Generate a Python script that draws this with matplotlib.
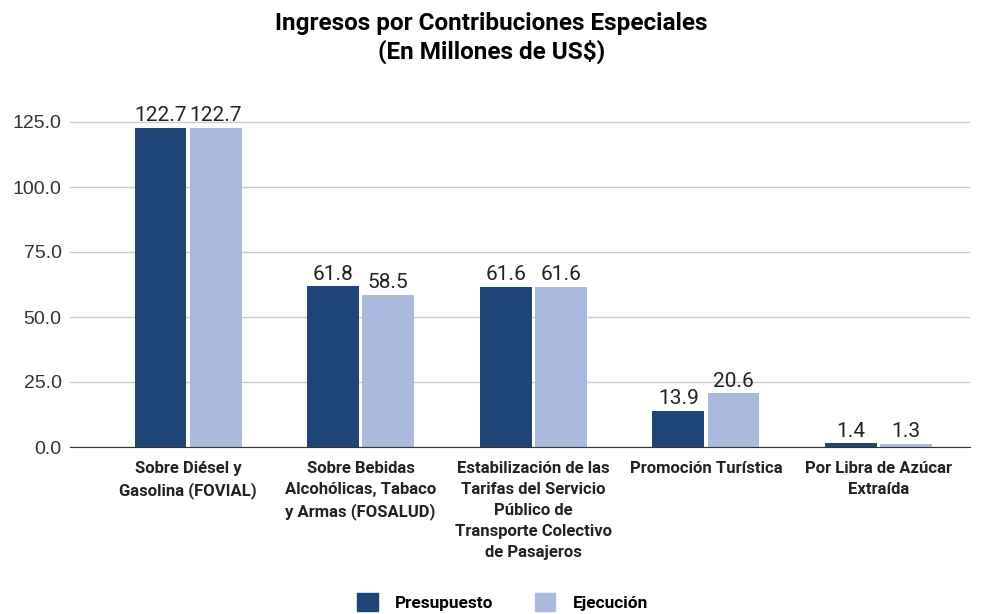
import numpy as np
import matplotlib.pyplot as plt
from matplotlib.patches import Patch

categories = ["Sobre Diésel y\nGasolina (FOVIAL)",
              "Sobre Bebidas\nAlcohólicas, Tabaco\ny Armas (FOSALUD)",
              "Estabilización de las\nTarifas del Servicio\nPúblico de\nTransporte Colectivo\nde Pasajeros",
              "Promoción Turística",
              "Por Libra de Azúcar\nExtraída"]
presupuesto = [122.7, 61.8, 61.6, 13.9, 1.4]
ejecucion = [122.7, 58.5, 61.6, 20.6, 1.3]
yticks = [0, 25, 50, 75, 100, 125]

dark = "#1f4577"
light = "#aab9de"

fig = plt.figure(figsize=(9.83, 6.14), dpi=100)
ax = fig.add_axes([70 / 983, 1 - 447 / 614, 900 / 983, (447 - 96) / 614])

x = np.arange(len(categories))
w = 0.30
b1 = ax.bar(x - 0.16, presupuesto, w, color=dark, zorder=3)
b2 = ax.bar(x + 0.16, ejecucion, w, color=light, zorder=3)

for bars, vals in ((b1, presupuesto), (b2, ejecucion)):
    for r, v in zip(bars, vals):
        ax.text(r.get_x() + r.get_width() / 2, v + 1.0, f"{v:.1f}",
                ha="center", va="bottom", fontsize=15, family="Roboto", color="#222222")

ax.set_xlim(-0.684, 4.53)
ax.set_ylim(0, 135)
ax.set_yticks(yticks)
ax.set_yticklabels([f"{t:.1f}" for t in yticks], family="Liberation Sans",
                   fontsize=14, color="#333333")
ax.grid(axis="y", color="#cccccc", linewidth=1, zorder=0)
ax.tick_params(axis="y", length=0, pad=6)
ax.tick_params(axis="x", length=0, pad=10)
ax.set_xticks(x)
ax.set_xticklabels(categories, fontsize=12, fontweight="bold", family="Roboto",
                   color="#222222", linespacing=1.5, va="top")
for s in ["top", "right", "left"]:
    ax.spines[s].set_visible(False)
ax.spines["bottom"].set_color("#333333")
ax.spines["bottom"].set_zorder(4)

fig.text(0.5, 1 - 38 / 614, "Ingresos por Contribuciones Especiales\n(En Millones de US$)",
         ha="center", va="center", fontsize=17.5, fontweight="bold", family="Roboto",
         linespacing=1.25)

handles = [Patch(color=dark, label="Presupuesto"), Patch(color=light, label="Ejecución")]
fig.legend(handles=handles, loc="center", bbox_to_anchor=(0.511, 1 - 602 / 614), ncol=2,
           frameon=False, prop={"family": "Roboto", "weight": "bold", "size": 12.4},
           handlelength=1.2, handleheight=1.2, columnspacing=2.4, handletextpad=1)

fig.savefig("out.png", dpi=100)
